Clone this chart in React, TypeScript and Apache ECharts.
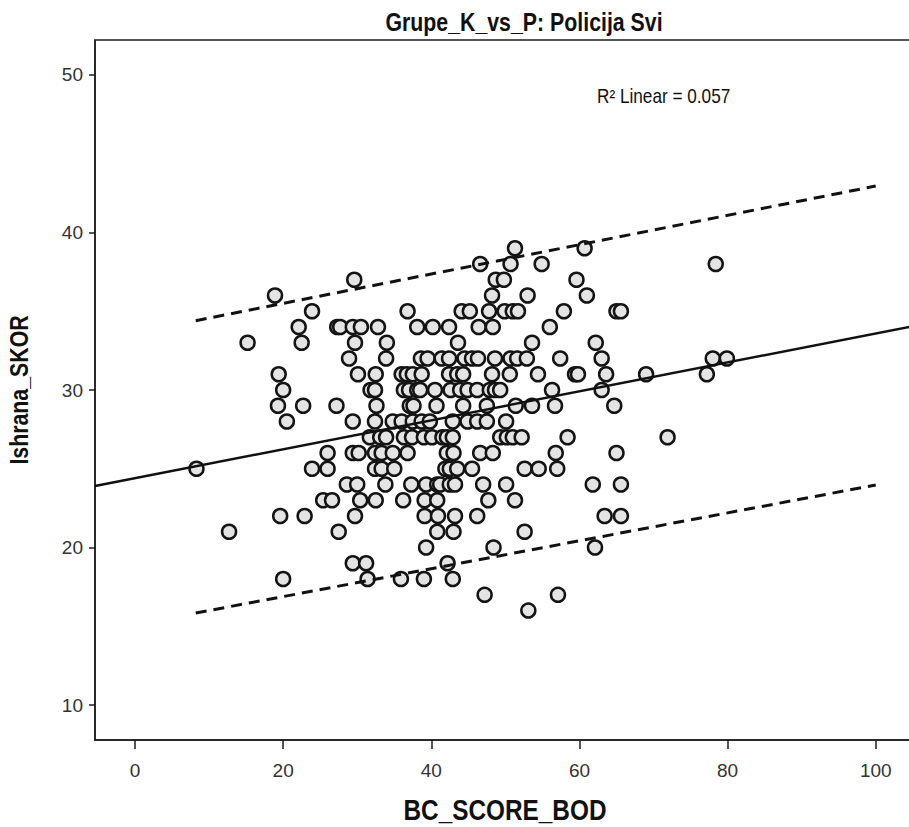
import React, { useEffect, useRef } from "react";
import * as echarts from "echarts";

// ---- Data (BC_SCORE_BOD values grouped by Ishrana_SKOR score) ----
const x_at_39 = [51.3, 60.7];
const x_at_38 = [46.6, 50.7, 54.9, 78.4];
const x_at_37 = [29.6, 48.7, 49.8, 59.6];
const x_at_36 = [18.9, 48.2, 53.0, 61.0];
const x_at_35 = [23.9, 36.8, 44.1, 45.2, 47.8, 49.9, 51.0, 51.7, 57.9, 65.0, 65.6];
const x_at_34 = [22.1, 27.3, 27.7, 29.4, 30.5, 32.8, 38.1, 40.2, 42.4, 46.4, 48.3, 56.0];
const x_at_33 = [15.2, 22.5, 29.7, 34.0, 43.6, 53.6, 62.2];
const x_at_32 = [28.9, 33.9, 38.6, 39.5, 41.4, 42.4, 44.5, 45.5, 46.3, 48.6, 50.7, 51.6, 52.9, 57.4, 63.0, 78.0, 79.9];
const x_at_31 = [19.4, 30.1, 32.5, 36.0, 36.7, 37.5, 38.7, 42.4, 43.5, 44.3, 48.2, 50.6, 54.4, 59.4, 59.8, 63.6, 69.0, 77.2];
const x_at_30 = [20.0, 31.8, 32.4, 36.3, 37.0, 38.1, 38.5, 40.5, 42.6, 43.9, 44.9, 46.2, 47.9, 48.6, 49.3, 56.3, 63.0];
const x_at_29 = [19.3, 22.7, 27.2, 32.6, 37.1, 37.6, 40.7, 44.3, 47.5, 51.4, 53.6, 56.7, 64.7];
const x_at_28 = [20.5, 29.4, 32.4, 34.8, 36.0, 37.5, 38.7, 39.8, 42.9, 44.9, 46.2, 47.5, 50.1];
const x_at_27 = [31.7, 33.1, 33.9, 36.3, 37.4, 39.0, 40.1, 41.5, 42.1, 42.9, 49.3, 50.2, 51.0, 52.2, 58.4, 71.9];
const x_at_26 = [26.0, 29.4, 30.2, 32.4, 33.3, 34.8, 36.8, 42.1, 43.0, 46.6, 48.3, 56.8, 65.0];
const x_at_25 = [8.3, 23.9, 26.0, 32.4, 33.3, 35.0, 41.9, 42.5, 43.5, 45.5, 52.6, 54.5, 57.0];
const x_at_24 = [28.6, 30.0, 33.8, 37.3, 39.3, 40.8, 41.2, 42.5, 43.2, 47.0, 50.1, 61.8, 65.6];
const x_at_23 = [25.4, 26.6, 30.4, 32.5, 36.2, 39.1, 40.8, 47.7, 51.3];
const x_at_22 = [19.6, 22.9, 29.7, 39.1, 40.9, 43.2, 46.2, 63.4, 65.6];
const x_at_21 = [12.7, 27.5, 40.8, 43.0, 52.6];
const x_at_20 = [39.3, 48.4, 62.1];
const x_at_19 = [29.4, 31.2, 42.2];
const x_at_18 = [20.0, 31.4, 35.9, 39.0, 42.9];
const x_at_17 = [47.2, 57.1];
const x_at_16 = [53.1];

const scoreLevels = [39, 38, 37, 36, 35, 34, 33, 32, 31, 30, 29, 28, 27, 26, 25, 24, 23, 22, 21, 20, 19, 18, 17, 16];
const xByLevel = [
  x_at_39, x_at_38, x_at_37, x_at_36, x_at_35, x_at_34, x_at_33, x_at_32,
  x_at_31, x_at_30, x_at_29, x_at_28, x_at_27, x_at_26, x_at_25, x_at_24,
  x_at_23, x_at_22, x_at_21, x_at_20, x_at_19, x_at_18, x_at_17, x_at_16,
];

// Fit line and 95% individual prediction interval
const fitX = [-5.4, 105.3];
const fitY = [23.9, 34.08];
const upperX = [8.2, 100];
const upperY = [34.4, 42.95];
const lowerX = [8.2, 100];
const lowerY = [15.84, 23.97];

const xTicks = [0, 20, 40, 60, 80, 100];
const yTicks = [10, 20, 30, 40, 50];

const titleText = "Grupe_K_vs_P: Policija Svi";
const xTitle = "BC_SCORE_BOD";
const yTitle = "Ishrana_SKOR";
const r2Text = "R² Linear = 0.057";

const FONT = "'Liberation Sans', Arial, sans-serif";

export default function App() {
  const ref = useRef<HTMLDivElement>(null);

  useEffect(() => {
    if (!ref.current) return;
    const chart = echarts.init(ref.current, null, { renderer: "svg" });

    const points: number[][] = [];
    scoreLevels.forEach((lv, i) => {
      xByLevel[i].forEach((x) => points.push([x, lv]));
    });

    const axisColor = "#1c1c1c";

    chart.setOption({
      animation: false,
      backgroundColor: "#ffffff",
      grid: {
        left: 95,
        top: 40,
        right: 15,
        bottom: 87,
        show: true,
        borderColor: axisColor,
        borderWidth: 1.5,
        backgroundColor: "transparent",
      },
      xAxis: {
        type: "value",
        min: -5.4,
        max: 105.3,
        axisLine: { show: true, onZero: false, lineStyle: { color: axisColor, width: 1.5 } },
        axisTick: {
          show: true,
          length: 9,
          customValues: xTicks,
          lineStyle: { color: axisColor, width: 1.5 },
        },
        axisLabel: {
          customValues: xTicks,
          margin: 21,
          fontSize: 19,
          color: "#333333",
          fontFamily: FONT,
        },
        splitLine: { show: false },
      },
      yAxis: {
        type: "value",
        min: 7.78,
        max: 52.22,
        axisLine: { show: true, onZero: false, lineStyle: { color: axisColor, width: 1.5 } },
        axisTick: {
          show: true,
          length: 6,
          customValues: yTicks,
          lineStyle: { color: axisColor, width: 1.5 },
        },
        axisLabel: {
          customValues: yTicks,
          margin: 12,
          fontSize: 19,
          color: "#333333",
          fontFamily: FONT,
        },
        splitLine: { show: false },
      },
      graphic: [
        {
          type: "text",
          x: 524,
          y: 22,
          scaleX: 0.82,
          style: {
            text: titleText,
            fill: "#111111",
            fontSize: 26,
            fontWeight: "bold",
            fontFamily: FONT,
            align: "center",
            verticalAlign: "middle",
          },
        },
        {
          type: "text",
          x: 505,
          y: 810,
          scaleX: 0.84,
          style: {
            text: xTitle,
            fill: "#111111",
            fontSize: 29,
            fontWeight: "bold",
            fontFamily: FONT,
            align: "center",
            verticalAlign: "middle",
          },
        },
        {
          type: "text",
          x: 19,
          y: 390,
          rotation: Math.PI / 2,
          scaleX: 0.82,
          style: {
            text: yTitle,
            fill: "#111111",
            fontSize: 26,
            fontWeight: "bold",
            fontFamily: FONT,
            align: "center",
            verticalAlign: "middle",
          },
        },
        {
          type: "text",
          x: 597,
          y: 96,
          scaleX: 0.86,
          style: {
            text: r2Text,
            fill: "#111111",
            fontSize: 20,
            fontFamily: FONT,
            align: "left",
            verticalAlign: "middle",
          },
        },
      ],
      series: [
        {
          type: "scatter",
          data: points,
          symbol: "circle",
          symbolSize: 14,
          itemStyle: { color: "#e4e4e4", borderColor: "#141414", borderWidth: 2.5, opacity: 1 },
          z: 2,
        },
        {
          type: "line",
          data: fitX.map((x, i) => [x, fitY[i]]),
          symbol: "none",
          lineStyle: { color: "#111111", width: 2.5 },
          z: 3,
        },
        {
          type: "line",
          data: upperX.map((x, i) => [x, upperY[i]]),
          symbol: "none",
          lineStyle: { color: "#111111", width: 3, type: [11, 7] },
          z: 3,
        },
        {
          type: "line",
          data: lowerX.map((x, i) => [x, lowerY[i]]),
          symbol: "none",
          lineStyle: { color: "#111111", width: 3, type: [11, 7] },
          z: 3,
        },
      ],
    });

    return () => chart.dispose();
  }, []);

  return (
    <div
      style={{
        position: "absolute",
        left: 0,
        top: 0,
        width: 909,
        height: 827,
        overflow: "hidden",
        background: "#ffffff",
      }}
    >
      <div ref={ref} style={{ width: 930, height: 827 }} />
    </div>
  );
}
